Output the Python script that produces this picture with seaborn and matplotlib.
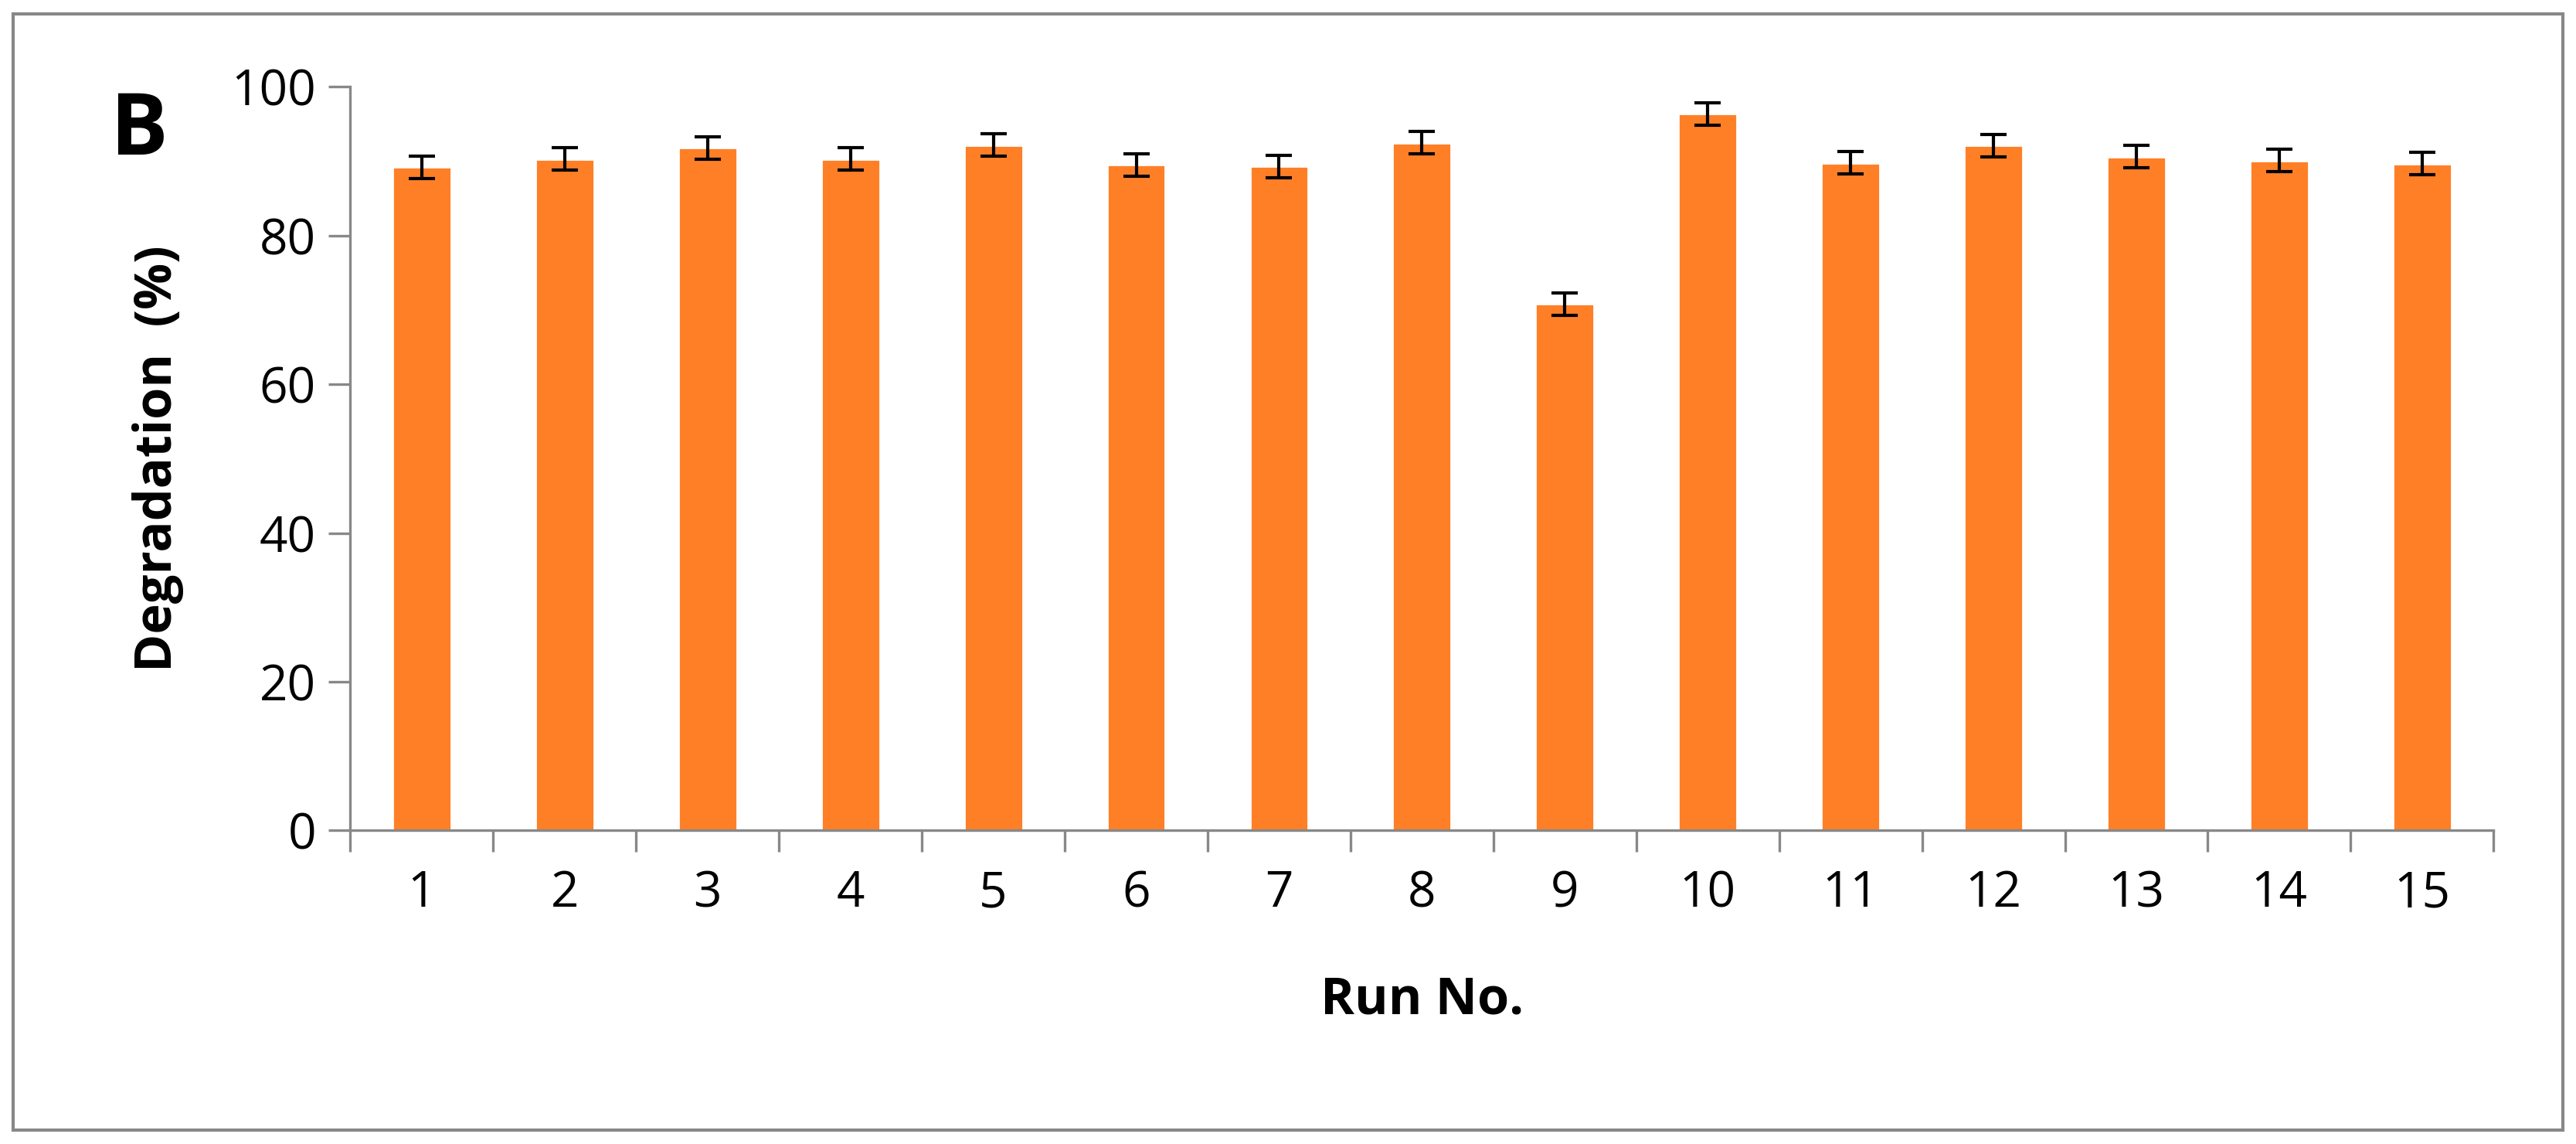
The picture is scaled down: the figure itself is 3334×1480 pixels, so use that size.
import matplotlib
matplotlib.use("Agg")
import matplotlib.pyplot as plt
import seaborn as sns
import pandas as pd
import numpy as np
from matplotlib.patches import Rectangle

runs = [str(i) for i in range(1, 16)]
degradation = [89.2, 90.3, 91.8, 90.3, 92.2, 89.5, 89.3, 92.5, 70.8, 96.4, 89.8, 92.1, 90.6, 90.1, 89.7]
errors = [1.5] * 15

sns.set_theme(style="white")
plt.rcParams['font.family'] = ['Open Sans', 'DejaVu Sans']

df = pd.DataFrame({"Run": runs, "Deg": degradation})
fig = plt.figure(figsize=(16.67, 7.4), dpi=200)
ax = fig.add_axes([0.136, 0.274, 0.832, 0.65])
sns.barplot(data=df, x="Run", y="Deg", color="#FF7F27", saturation=1, width=0.41, ax=ax, errorbar=None)
ax.errorbar(np.arange(15), degradation, yerr=errors, fmt="none", ecolor="black", elinewidth=1.5, capsize=6, capthick=1.5)
ax.set_ylim(0, 100)
ax.set_xlim(-0.5, 14.5)
ax.set_yticks(range(0, 101, 20))
ax.set_xticks(np.arange(-0.5, 15, 1), minor=True)
ax.tick_params(axis="x", which="major", length=0, labelsize=23, pad=18, labelcolor="black")
ax.tick_params(axis="x", which="minor", length=10, width=1.2, color="#888888", bottom=True)
ax.tick_params(axis="y", which="major", length=10, width=1.2, color="#888888", left=True, labelsize=23, pad=6, labelcolor="black")
for s in ["top", "right"]:
    ax.spines[s].set_visible(False)
for s in ["left", "bottom"]:
    ax.spines[s].set_color("#888888")
    ax.spines[s].set_linewidth(1.2)
ax.set_xlabel("Run No.", fontsize=24, fontweight="bold", labelpad=26, color="black")
ax.set_ylabel("Degradation  (%)", fontsize=24, fontweight="bold", labelpad=22, color="black")
fig.text(0.043, 0.865, "B", fontsize=40, fontweight="bold", color="black")
fig.patches.append(Rectangle((0.005, 0.012), 0.99, 0.976, transform=fig.transFigure, fill=False, edgecolor="#888888", linewidth=1.5))
fig.savefig("out.png", dpi=200)
